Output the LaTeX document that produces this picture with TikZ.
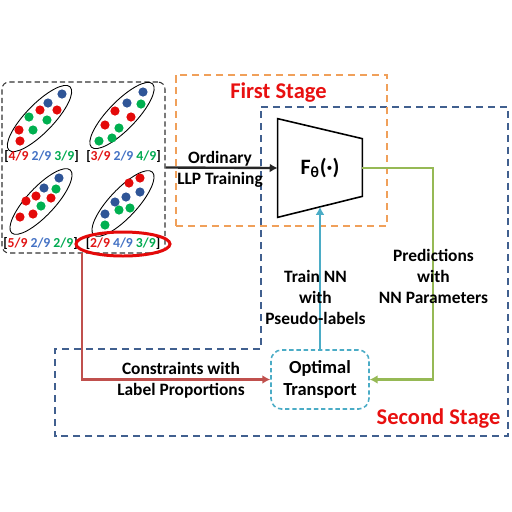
\documentclass[tikz,border=0pt]{standalone}
\usepackage{fontspec}
\setmainfont{Carlito}
\usetikzlibrary{arrows.meta,calc}
\newlength\pxu
\setlength\pxu{0.02cm}
\definecolor{fracred}{RGB}{225,20,20}
\definecolor{fracblue}{RGB}{68,114,196}
\definecolor{fracgreen}{RGB}{0,170,80}
\definecolor{dotred}{RGB}{228,10,10}
\definecolor{dotblue}{RGB}{47,85,151}
\definecolor{dotgreen}{RGB}{0,176,80}
\definecolor{stagered}{RGB}{232,16,16}
\definecolor{stageblue}{RGB}{65,96,143}
\definecolor{stageorange}{RGB}{240,160,90}
\definecolor{otcyan}{RGB}{75,172,198}
\definecolor{predgreen}{RGB}{150,185,85}
\definecolor{consred}{RGB}{192,80,77}
\tikzset{
  lbl/.style={font=\fontsize{9.9pt}{11.8pt}\selectfont\bfseries, align=center, inner sep=0pt},
  stagelbl/.style={font=\fontsize{12.8pt}{14pt}\selectfont\bfseries, text=stagered, inner sep=0pt},
  frac/.style={font=\fontsize{7.8pt}{9pt}\selectfont\bfseries, inner sep=0pt},
  bag/.style={draw=black, line width=0.5pt},
  longdash/.style={dash pattern=on 4pt off 2.8pt, line width=1.1pt},
  flow/.style={line width=1.35pt, -{Latex[length=4.5pt,width=5pt]}},
}
\newcommand{\fr}[3]{[\textcolor{fracred}{#1}\ \textcolor{fracblue}{#2}\ \textcolor{fracgreen}{#3}]}
\begin{document}
\begin{tikzpicture}[x=0.02cm,y=-0.02cm]
\useasboundingbox (0,0) rectangle (512,512);

% second stage region
\draw[stageblue, longdash] (261,107) -- (508,107) -- (508,436) -- (55,436)
  -- (55,349) -- (261,349) -- cycle;
% first stage region
\node (stage1) [draw=stageorange, longdash, minimum width=211\pxu, minimum height=151\pxu, inner sep=0pt] at (281.5,150.5) {};
\node (s1lbl) [stagelbl] at (278.5,93) {First Stage};
\node (s2lbl) [stagelbl] at (438.5,419) {Second Stage};

% bags of instances
\node (lbox) [draw=black!80, dash pattern=on 3pt off 1.8pt, line width=0.6pt, rounded corners=4pt,
  minimum width=163\pxu, minimum height=171\pxu, inner sep=0pt] at (83.5,167.5) {};

\draw[bag, rotate around={46:(39.5,118.5)}] (39.5,118.5) ellipse[x radius=44, y radius=14];
\foreach \dx/\dy/\c in {62/94/dotblue, 48/103/dotblue, 40/110/dotred, 57/110/dotred, 29/117/dotgreen,
  47/120/dotgreen, 19/130/dotred, 33/130/dotgreen, 20/141/dotred} {
  \fill[\c] (\dx,\dy) circle[radius=4.6];
}
\draw[bag, rotate around={46:(122,115.5)}] (122,115.5) ellipse[x radius=44, y radius=14];
\foreach \dx/\dy/\c in {143/92/dotblue, 127/103/dotblue, 141/104/dotgreen, 115/111/dotred, 131/117/dotred,
  105/125/dotred, 119/128/dotgreen, 99/141/dotgreen, 112/138/dotgreen} {
  \fill[\c] (\dx,\dy) circle[radius=4.6];
}
\draw[bag, rotate around={47:(41,201.5)}] (41,201.5) ellipse[x radius=43, y radius=14];
\foreach \dx/\dy/\c in {59/178/dotblue, 44/188/dotblue, 56/189/dotgreen, 36/196/dotred, 51/198/dotred,
  26/201/dotred, 41/206/dotgreen, 33/214/dotred, 20/217/dotred} {
  \fill[\c] (\dx,\dy) circle[radius=4.6];
}
\draw[bag, rotate around={47:(123,203.5)}] (123,203.5) ellipse[x radius=43, y radius=14];
\foreach \dx/\dy/\c in {140/178/dotred, 129/183/dotred, 140/192/dotblue, 126/197/dotblue, 115/202/dotblue,
  130/208/dotgreen, 119/210/dotgreen, 105/214/dotblue, 105/225/dotgreen} {
  \fill[\c] (\dx,\dy) circle[radius=4.6];
}

\node (p1) [frac] at (41.5,157) {\fr{4/9}{2/9}{3/9}};
\node (p2) [frac] at (123.5,157) {\fr{3/9}{2/9}{4/9}};
\node (p3) [frac] at (40.5,244) {\fr{5/9}{2/9}{2/9}};
\node (p4) [frac] at (123,244) {\fr{2/9}{4/9}{3/9}};
\draw[dotred, line width=1.7pt] (p4) ellipse[x radius=47, y radius=12];

% network
\node (net) [minimum width=84\pxu, minimum height=98\pxu, inner sep=0pt,
  font=\fontsize{12.5pt}{14pt}\selectfont\bfseries] at (320,168) {F\textsubscript{θ}(·)};
\draw[black, line width=0.9pt, line join=miter] (net.north west) -- ($(net.north east)+(0,20)$)
  -- ($(net.south east)+(0,-21)$) -- (net.south west) -- cycle;
\coordinate (netb) at ($(net.south)+(0,-10.5)$);

% optimal transport
\node (ot) [draw=otcyan, dash pattern=on 2.5pt off 1.6pt, line width=0.9pt, rounded corners=6pt,
  minimum width=98\pxu, minimum height=59\pxu, inner sep=0pt, align=center,
  font=\fontsize{10.5pt}{13pt}\selectfont\bfseries] at (320,379.5) {Optimal\\Transport};

% connectors
\draw[flow, black!85] (lbox.east) -- (net.west);
\node (llp) [lbl] at (220,169) {Ordinary\\LLP Training};

\draw[flow, otcyan] (ot.north) -- (netb);
\node (train) [lbl] at (315.5,297.5) {Train NN\\with\\Pseudo-labels};

\coordinate (gcorner) at (433,168);
\draw[flow, predgreen] (net.east) -- (gcorner) |- (ot.east);
\node (pred) [lbl] at (433.5,276.5) {Predictions\\with\\NN Parameters};

\coordinate (rstart) at (82,253);
\draw[flow, consred] (rstart) |- (ot.west);
\node (cons) [lbl] at (181,380.5) {Constraints with\\Label Proportions};
\end{tikzpicture}
\end{document}
